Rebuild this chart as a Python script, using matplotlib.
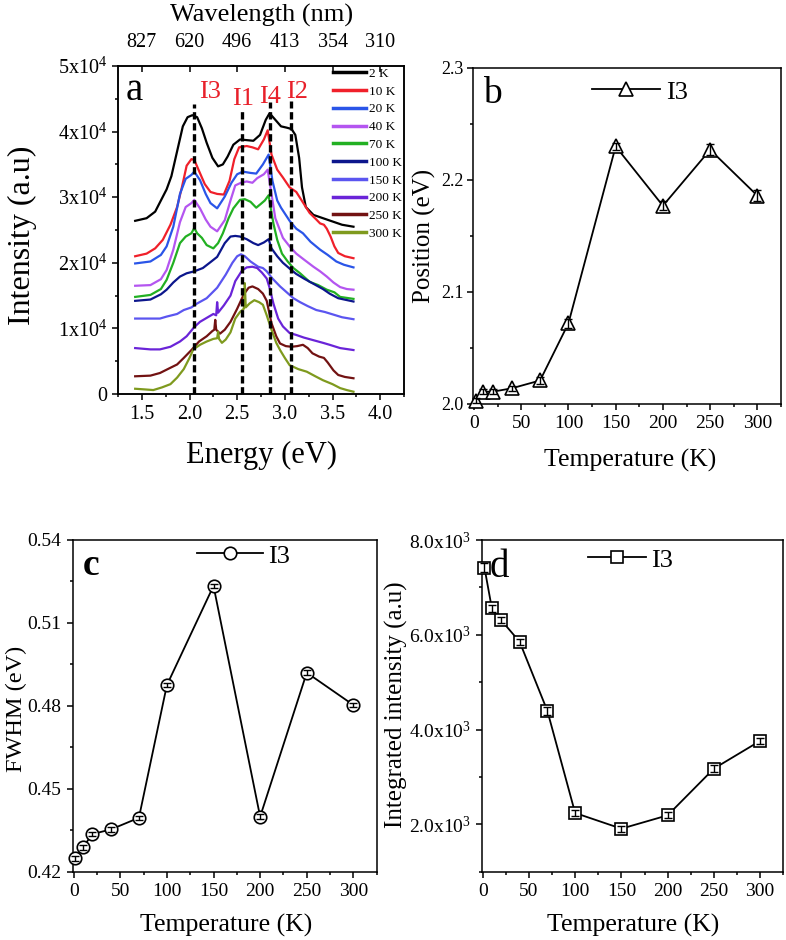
import matplotlib
matplotlib.use("Agg")
import matplotlib.pyplot as plt
from matplotlib.ticker import AutoMinorLocator, FixedLocator, FuncFormatter, MultipleLocator

plt.rcParams['font.family'] = ['Liberation Serif', 'DejaVu Serif']
plt.rcParams['mathtext.fontset'] = 'custom'
plt.rcParams['mathtext.rm'] = 'Liberation Serif'
plt.rcParams['mathtext.it'] = 'Liberation Serif:italic'
plt.rcParams['axes.linewidth'] = 1.1

# ---- panel a: PL spectra (energy in eV, intensity in units of 1e4) ----
labels_a = ["2 K", "10 K", "20 K", "40 K", "70 K", "100 K", "150 K", "200 K", "250 K", "300 K"]
colors_a = ["#000000", "#f0202a", "#2a55e8", "#b455f0", "#22b022", "#0c168c",
            "#5b55f0", "#6a24d8", "#721212", "#7f9a1e"]

e_2k = [1.43, 1.55, 1.64, 1.70, 1.76, 1.81, 1.87, 1.93, 1.98, 2.03, 2.08, 2.13, 2.18, 2.24, 2.30, 2.35,
        2.40, 2.46, 2.53, 2.60, 2.67, 2.74, 2.80, 2.84, 2.90, 2.96, 3.02, 3.07, 3.11, 3.15, 3.18, 3.22,
        3.30, 3.40, 3.50, 3.60, 3.72]
i_2k = [2.64, 2.68, 2.78, 2.95, 3.12, 3.32, 3.70, 4.08, 4.22, 4.25, 4.22, 4.05, 3.83, 3.60, 3.47, 3.50,
        3.62, 3.80, 3.88, 3.87, 3.86, 3.95, 4.18, 4.28, 4.18, 4.08, 4.06, 4.04, 3.95, 3.60, 3.15, 2.85,
        2.73, 2.68, 2.63, 2.58, 2.55]

e_10k = [1.43, 1.55, 1.64, 1.72, 1.80, 1.87, 1.92, 1.97, 2.02, 2.05, 2.10, 2.16, 2.22, 2.29, 2.36, 2.42,
         2.47, 2.52, 2.60, 2.66, 2.72, 2.78, 2.82, 2.86, 2.92, 2.98, 3.05, 3.12, 3.19, 3.26, 3.33, 3.37,
         3.41, 3.44, 3.48, 3.52, 3.56, 3.63, 3.72]
i_10k = [2.10, 2.14, 2.22, 2.35, 2.58, 2.85, 3.15, 3.48, 3.58, 3.57, 3.40, 3.20, 3.08, 3.05, 3.04, 3.25,
         3.58, 3.76, 3.78, 3.76, 3.73, 3.88, 4.02, 3.65, 3.42, 3.30, 3.15, 3.08, 2.92, 2.76, 2.66, 2.60,
         2.58, 2.52, 2.40, 2.25, 2.15, 2.10, 2.07]

e_20k = [1.43, 1.59, 1.70, 1.76, 1.83, 1.90, 1.96, 2.02, 2.05, 2.11, 2.17, 2.22, 2.29, 2.37, 2.44, 2.50,
         2.56, 2.64, 2.70, 2.77, 2.83, 2.87, 2.92, 2.96, 3.05, 3.12, 3.19, 3.27, 3.37, 3.45, 3.54, 3.62, 3.72]
i_20k = [1.99, 2.02, 2.12, 2.25, 2.55, 3.05, 3.28, 3.34, 3.39, 3.26, 3.05, 2.91, 2.83, 3.01, 3.22, 3.35,
         3.39, 3.37, 3.36, 3.50, 3.65, 3.25, 2.95, 2.84, 2.64, 2.52, 2.45, 2.32, 2.20, 2.12, 2.02, 1.97, 1.93]

e_40k = [1.43, 1.59, 1.70, 1.76, 1.83, 1.90, 1.96, 2.02, 2.05, 2.11, 2.17, 2.22, 2.29, 2.37, 2.43, 2.48,
         2.54, 2.60, 2.66, 2.71, 2.78, 2.82, 2.86, 2.90, 2.98, 3.05, 3.12, 3.20, 3.30, 3.37, 3.44, 3.51,
         3.58, 3.65, 3.72]
i_40k = [1.65, 1.66, 1.75, 1.89, 2.20, 2.62, 2.85, 2.91, 2.96, 2.83, 2.66, 2.55, 2.48, 2.65, 2.95, 3.18,
         3.22, 3.24, 3.22, 3.29, 3.35, 3.42, 3.05, 2.68, 2.38, 2.25, 2.14, 2.05, 1.94, 1.87, 1.79, 1.70,
         1.63, 1.60, 1.59]

e_70k = [1.43, 1.59, 1.70, 1.76, 1.83, 1.90, 1.96, 2.02, 2.05, 2.08, 2.13, 2.18, 2.25, 2.30, 2.35, 2.41,
         2.46, 2.53, 2.58, 2.64, 2.70, 2.75, 2.79, 2.83, 2.85, 2.88, 2.92, 2.97, 3.03, 3.09, 3.16, 3.26,
         3.35, 3.44, 3.52, 3.58, 3.72]
i_70k = [1.48, 1.51, 1.60, 1.74, 2.00, 2.30, 2.40, 2.45, 2.53, 2.45, 2.38, 2.27, 2.22, 2.30, 2.45, 2.68,
         2.83, 2.96, 2.97, 2.93, 2.84, 2.90, 2.95, 3.03, 2.85, 2.60, 2.35, 2.14, 2.02, 1.92, 1.84, 1.71,
         1.66, 1.59, 1.55, 1.48, 1.45]

e_100k = [1.43, 1.59, 1.70, 1.76, 1.83, 1.90, 1.97, 2.05, 2.14, 2.22, 2.29, 2.37, 2.43, 2.48, 2.53, 2.60,
          2.67, 2.72, 2.78, 2.83, 2.86, 2.92, 2.98, 3.06, 3.12, 3.20, 3.30, 3.40, 3.47, 3.56, 3.72]
i_100k = [1.42, 1.44, 1.52, 1.59, 1.70, 1.79, 1.84, 1.87, 1.92, 2.01, 2.09, 2.30, 2.40, 2.41, 2.40, 2.36,
          2.30, 2.27, 2.31, 2.36, 2.22, 2.10, 2.00, 1.90, 1.83, 1.76, 1.68, 1.60, 1.53, 1.46, 1.41]

e_150k = [1.43, 1.59, 1.69, 1.76, 1.87, 1.94, 2.02, 2.08, 2.18, 2.29, 2.38, 2.45, 2.50, 2.54, 2.58, 2.64,
          2.72, 2.77, 2.81, 2.87, 2.95, 3.02, 3.09, 3.16, 3.24, 3.33, 3.42, 3.51, 3.60, 3.72]
i_150k = [1.15, 1.15, 1.15, 1.18, 1.22, 1.28, 1.32, 1.38, 1.46, 1.62, 1.82, 2.00, 2.10, 2.13, 2.10, 2.02,
          1.94, 1.92, 1.87, 1.76, 1.64, 1.55, 1.46, 1.40, 1.34, 1.28, 1.25, 1.21, 1.17, 1.14]

e_200k = [1.43, 1.59, 1.69, 1.80, 1.90, 1.97, 2.05, 2.11, 2.18, 2.25, 2.28, 2.29, 2.30, 2.36, 2.43, 2.48,
          2.55, 2.60, 2.66, 2.71, 2.76, 2.81, 2.84, 2.88, 2.93, 2.98, 3.05, 3.12, 3.20, 3.30, 3.40, 3.47,
          3.58, 3.72]
i_200k = [0.70, 0.68, 0.68, 0.72, 0.80, 0.88, 1.02, 1.10, 1.16, 1.22, 1.20, 1.40, 1.24, 1.35, 1.50, 1.72,
          1.88, 1.93, 1.94, 1.92, 1.85, 1.76, 1.62, 1.38, 1.15, 1.03, 0.93, 0.90, 0.86, 0.82, 0.78, 0.75,
          0.70, 0.67]

e_250k = [1.43, 1.59, 1.69, 1.80, 1.87, 1.94, 2.02, 2.10, 2.18, 2.24, 2.26, 2.27, 2.28, 2.32, 2.37, 2.43,
          2.50, 2.57, 2.62, 2.66, 2.72, 2.77, 2.81, 2.86, 2.91, 2.95, 3.01, 3.07, 3.13, 3.19, 3.24, 3.29,
          3.36, 3.41, 3.45, 3.51, 3.56, 3.63, 3.72]
i_250k = [0.27, 0.28, 0.32, 0.40, 0.45, 0.55, 0.67, 0.80, 0.88, 0.96, 0.98, 1.13, 0.98, 0.92, 0.98, 1.10,
          1.30, 1.52, 1.62, 1.64, 1.60, 1.53, 1.42, 1.08, 0.88, 0.77, 0.73, 0.72, 0.73, 0.75, 0.70, 0.62,
          0.57, 0.55, 0.48, 0.36, 0.29, 0.26, 0.24]

e_300k = [1.43, 1.53, 1.62, 1.71, 1.80, 1.87, 1.94, 2.00, 2.04, 2.11, 2.18, 2.25, 2.29, 2.30, 2.31, 2.34,
          2.38, 2.43, 2.48, 2.53, 2.57, 2.58, 2.59, 2.63, 2.68, 2.73, 2.77, 2.81, 2.86, 2.91, 2.95, 3.00,
          3.05, 3.14, 3.23, 3.32, 3.40, 3.50, 3.58, 3.65, 3.72]
i_300k = [0.08, 0.07, 0.06, 0.10, 0.15, 0.25, 0.38, 0.55, 0.68, 0.75, 0.80, 0.84, 0.85, 0.95, 0.84, 0.78,
          0.83, 0.94, 1.15, 1.25, 1.30, 1.69, 1.32, 1.38, 1.43, 1.40, 1.36, 1.20, 0.98, 0.78, 0.67, 0.55,
          0.44, 0.38, 0.34, 0.27, 0.21, 0.15, 0.09, 0.06, 0.035]

spectra_e = [e_2k, e_10k, e_20k, e_40k, e_70k, e_100k, e_150k, e_200k, e_250k, e_300k]
spectra_i = [i_2k, i_10k, i_20k, i_40k, i_70k, i_100k, i_150k, i_200k, i_250k, i_300k]

peak_names = ["I3", "I1", "I4", "I2"]
peak_energy = [2.05, 2.55, 2.84, 3.06]
peak_top = [4.42, 4.33, 4.45, 4.46]
wavelength_ticks = [827, 620, 496, 413, 354, 310]

# ---- panels b, c, d: I3 fit results vs temperature ----
temps = [2, 10, 20, 40, 70, 100, 150, 200, 250, 300]
position = [2.003, 2.011, 2.011, 2.014, 2.021, 2.072, 2.230, 2.177, 2.227, 2.186]
position_err = [0.002, 0.002, 0.002, 0.002, 0.003, 0.004, 0.003, 0.004, 0.005, 0.005]
fwhm = [0.4248, 0.4288, 0.4336, 0.4353, 0.4395, 0.4875, 0.5234, 0.4399, 0.4920, 0.4803]
fwhm_err = [0.0008, 0.0008, 0.0008, 0.0008, 0.0008, 0.0008, 0.0008, 0.0008, 0.0008, 0.0008]
integ = [7415, 6556, 6310, 5852, 4394, 2239, 1908, 2190, 3176, 3761]
integ_err = [90, 70, 70, 60, 80, 70, 60, 60, 70, 60]

W, H = 786, 940
fig = plt.figure(figsize=(W / 100, H / 100), dpi=100)


def px_axes(left, top, right, bottom):
    return fig.add_axes([left / W, 1 - bottom / H, (right - left) / W, (bottom - top) / H])


def ftext(x, y, s, **kw):
    fig.text(x / W, 1 - y / H, s, **kw)


# ---------------- panel a ----------------
ax = px_axes(118, 66, 404, 394)
for e, i, c, lab in zip(spectra_e, spectra_i, colors_a, labels_a):
    ax.plot(e, [v * 1e4 for v in i], color=c, lw=1.6, label=lab)
ax.vlines(peak_energy, 0, [v * 1e4 for v in peak_top], colors="k", lw=2.4,
          linestyles=(0, (2.2, 1.1)), zorder=5)
ax.set_xlim(1.25, 4.25)
ax.set_ylim(0, 5e4)
ax.xaxis.set_major_locator(MultipleLocator(0.5))
ax.xaxis.set_minor_locator(MultipleLocator(0.25))
ax.yaxis.set_major_locator(MultipleLocator(1e4))
ax.yaxis.set_minor_locator(MultipleLocator(5e3))
ax.yaxis.set_major_formatter(FuncFormatter(
    lambda v, p: "0" if v == 0 else f"{int(round(v / 1e4))}x10$^{{4}}$"))
ax.xaxis.set_major_formatter(FuncFormatter(lambda v, p: f"{v:.1f}"))
ax.tick_params(which="both", direction="out", width=1.1, labelsize=14.5, top=False, right=False)
ax.tick_params(which="major", length=4.5)
ax.tick_params(which="minor", length=2.5)
leg = ax.legend(loc="upper left", bbox_to_anchor=(0.752, 0.995), frameon=False, fontsize=9.5,
                handlelength=2.5, handletextpad=0.25, labelspacing=0.42, borderpad=0,
                borderaxespad=0)
for h in leg.get_lines():
    h.set_linewidth(2.5)

name_pos = [(2.22, 4.61), (2.565, 4.50), (2.845, 4.53), (3.125, 4.60)]
for nm, (xe, yi) in zip(peak_names, name_pos):
    ax.text(xe, yi * 1e4, nm, color="#e8202a", fontsize=19, ha="center", va="center")

top = ax.twiny()
top.set_xlim(ax.get_xlim())
top.set_xticks([1240 / w for w in wavelength_ticks])
top.set_xticklabels([str(w) for w in wavelength_ticks])
top.tick_params(direction="in", length=4, width=1.1, labelsize=14.5, pad=10)

ftext(262, 15, "Wavelength (nm)", ha="center", va="center", fontsize=19)
ftext(261, 455, "Energy (eV)", ha="center", va="center", fontsize=22)
ftext(22, 235, "Intensity (a.u)", ha="center", va="center", rotation=90, fontsize=23)
ftext(126, 100, "a", ha="left", va="baseline", fontsize=28)


def style_temp_axis(a, ylabelsize=14):
    a.set_xlim(-1, 325)
    a.xaxis.set_major_locator(MultipleLocator(50))
    a.xaxis.set_minor_locator(AutoMinorLocator(2))
    a.yaxis.set_minor_locator(AutoMinorLocator(2))
    a.tick_params(which="both", direction="out", width=1.1, labelsize=14, top=False, right=False)
    a.tick_params(axis="y", labelsize=ylabelsize)
    a.tick_params(which="major", length=4.5)
    a.tick_params(which="minor", length=2.5)


def draw_series(a, y, err, marker, ms):
    a.plot(temps, y, "-", color="k", lw=1.3, marker=marker, ms=ms, mfc="white", mec="k",
           mew=1.2, label="I3", clip_on=False, zorder=3)
    a.errorbar(temps, y, yerr=err, fmt="none", ecolor="k", elinewidth=1.0, capsize=3,
               capthick=1.0, zorder=4, clip_on=False)


# ---------------- panel b ----------------
axb = px_axes(473, 68, 781, 404)
draw_series(axb, position, position_err, "^", 10)
axb.set_ylim(2.0, 2.3)
axb.yaxis.set_major_locator(MultipleLocator(0.1))
axb.yaxis.set_major_formatter(FuncFormatter(lambda v, p: f"{v:.1f}"))
style_temp_axis(axb, ylabelsize=13)
axb.tick_params(axis="y", which="major", pad=2)
axb.legend(loc="center left", bbox_to_anchor=(0.386, 0.929), frameon=False, fontsize=19,
           handlelength=2.6, handletextpad=0.2, borderpad=0, borderaxespad=0)
ftext(630, 460, "Temperature (K)", ha="center", va="center", fontsize=18.5)
ftext(424, 236, "Position (eV)", ha="center", va="center", rotation=90, fontsize=18)
ftext(483, 103, "b", ha="left", va="baseline", fontsize=27)

# ---------------- panel c ----------------
axc = px_axes(72.7, 540, 376.7, 871.7)
draw_series(axc, fwhm, fwhm_err, "o", 9)
axc.set_ylim(0.42, 0.54)
axc.yaxis.set_major_locator(MultipleLocator(0.03))
axc.yaxis.set_major_formatter(FuncFormatter(lambda v, p: f"{v:.2f}"))
style_temp_axis(axc)
axc.legend(loc="center left", bbox_to_anchor=(0.409, 0.952), frameon=False, fontsize=19,
           handlelength=2.5, handletextpad=0.2, borderpad=0, borderaxespad=0)
ftext(226, 925, "Temperature (K)", ha="center", va="center", fontsize=18.5)
ftext(16, 709, "FWHM (eV)", ha="center", va="center", rotation=90, fontsize=17.5)
ftext(83, 575, "c", ha="left", va="baseline", fontsize=27, fontweight="bold")

# ---------------- panel d ----------------
axd = px_axes(481.7, 540, 783.3, 871.7)
draw_series(axd, integ, integ_err, "s", 8.5)
axd.set_ylim(1000, 8000)
axd.yaxis.set_major_locator(FixedLocator([2000, 4000, 6000, 8000]))
axd.yaxis.set_major_formatter(FuncFormatter(lambda v, p: f"{v / 1000:.1f}x10$^{{3}}$"))
style_temp_axis(axd)
axd.yaxis.set_minor_locator(FixedLocator([1000, 3000, 5000, 7000]))
axd.legend(loc="center left", bbox_to_anchor=(0.352, 0.94), frameon=False, fontsize=19,
           handlelength=2.2, handletextpad=0.2, borderpad=0, borderaxespad=0)
ftext(633, 925, "Temperature (K)", ha="center", va="center", fontsize=18.5)
ftext(396, 705, "Integrated intensity (a.u)", ha="center", va="center", rotation=90, fontsize=18)
ftext(490, 577, "d", ha="left", va="baseline", fontsize=28)

fig.savefig("out.png", dpi=100)
